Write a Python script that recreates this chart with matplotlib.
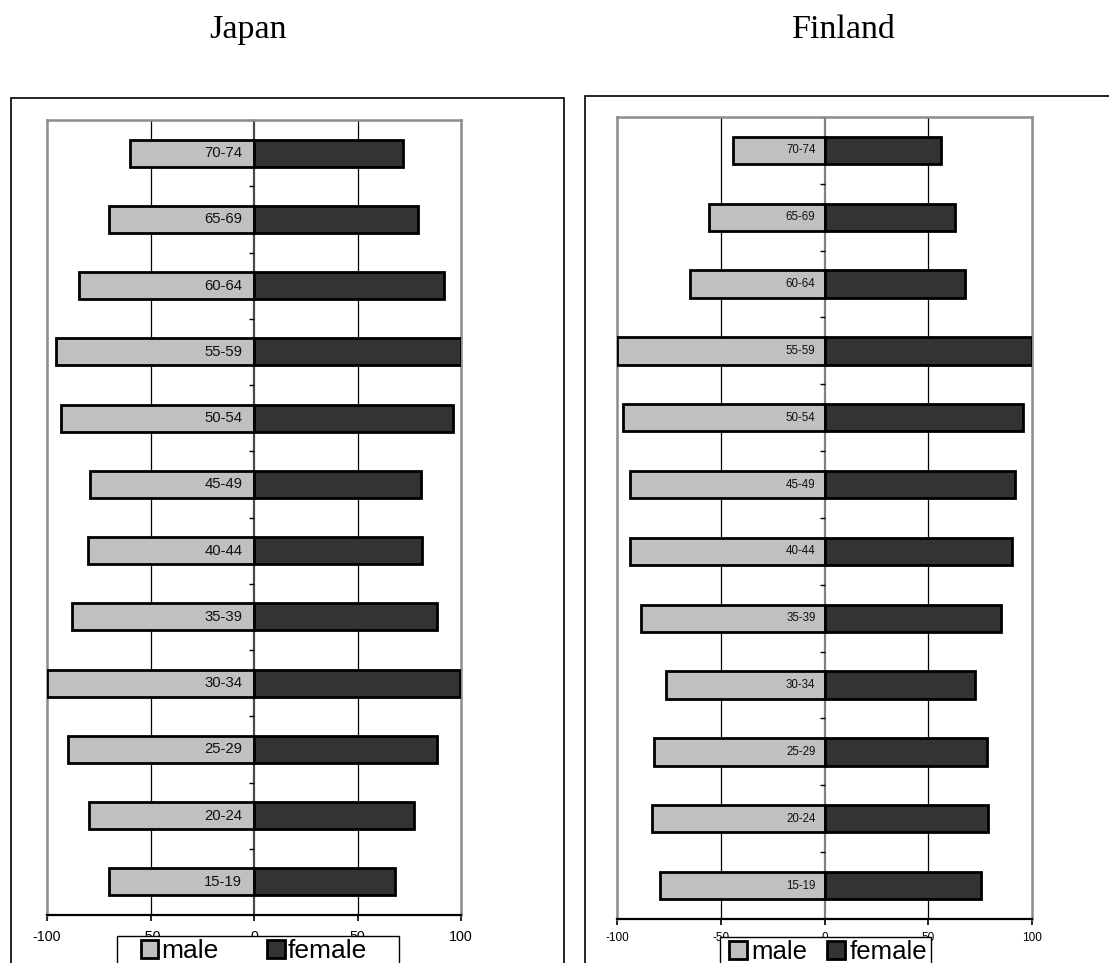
import matplotlib
matplotlib.use("Agg")
import matplotlib.pyplot as plt
from matplotlib.patches import Rectangle

# Age groups, bottom to top
age_groups = ["15-19", "20-24", "25-29", "30-34", "35-39", "40-44",
              "45-49", "50-54", "55-59", "60-64", "65-69", "70-74"]

# Index values (max = 100) for each sex
japan_male = [70, 79.6, 90, 100, 88, 80, 79.3, 93.2, 95.7, 84.3, 69.9, 59.7]
japan_female = [68, 77.4, 88.4, 99.7, 88.5, 81, 80.6, 96, 100, 91.6, 79, 72.2]
finland_male = [79.3, 82.9, 82.3, 76.5, 88.4, 93.8, 93.8, 96.9, 100, 65, 55.5, 43.9]
finland_female = [75.5, 78.7, 78.2, 72.4, 85, 90.4, 91.7, 95.7, 100, 67.7, 62.8, 56]

x_ticks = [-100, -50, 0, 50, 100]
series_names = ["male", "female"]

W, H = 1109, 963
fig = plt.figure(figsize=(W / 100, H / 100), dpi=100)
fig.patch.set_facecolor("white")

SANS = ["Liberation Sans", "DejaVu Sans"]
SERIF = ["Liberation Serif", "DejaVu Serif"]


def fx(px):
    return px / W


def fy(py):
    return 1 - py / H


def pyramid(rect, male, female, label_size, tick_size, label_offset, tick_pad, zero_color):
    ax = fig.add_axes(rect)
    y = list(range(len(age_groups)))
    ax.set_xlim(-100, 100)
    ax.set_ylim(-0.5, len(age_groups) - 0.5)

    for gx in (-50, 50):
        ax.axvline(gx, color="black", lw=0.9, zorder=1)
    ax.axvline(0, color=zero_color, lw=1.6, zorder=1)

    # small tick marks on the zero axis at category boundaries
    bounds = [i - 0.5 for i in range(len(age_groups) + 1)]
    ax.hlines(bounds[1:], -2.3, 0, color="black", lw=1.0, zorder=1, clip_on=False)

    bm = ax.barh(y, [-v for v in male], height=0.41, color="#c0c0c0",
                 edgecolor="black", lw=2.0, zorder=3, label=series_names[0])
    bf = ax.barh(y, female, height=0.41, color="#333333",
                 edgecolor="black", lw=2.0, zorder=3, label=series_names[1])

    for yi, name in zip(y, age_groups):
        ax.annotate(name, xy=(0, yi), xytext=(-label_offset, 0),
                    textcoords="offset points", ha="right", va="center",
                    fontsize=label_size, family=SANS, color="#111111", zorder=4)

    ax.set_yticks([])
    ax.set_xticks(x_ticks)
    ax.set_xticklabels([str(t) for t in x_ticks], family=SANS, fontsize=tick_size)
    ax.tick_params(axis="x", direction="out", length=4, width=1.2,
                   pad=tick_pad, colors="black")
    for side in ("top", "left", "right"):
        ax.spines[side].set_color("#8c8c8c")
        ax.spines[side].set_linewidth(1.8)
    ax.spines["bottom"].set_color("black")
    ax.spines["bottom"].set_linewidth(1.6)
    ax.set_facecolor("white")
    return ax, bm, bf


# Japan panel
jl, jr, jt, jb = 47, 461, 120, 915
ax_j, jm, jf = pyramid([fx(jl), fy(jb), fx(jr - jl), (jb - jt) / H],
                       japan_male, japan_female, 10.7, 10.3, 8.5, 7, "#4a4a4a")

# Finland panel
kl, kr, kt, kb = 617, 1032, 117, 919
ax_f, fm, ff = pyramid([fx(kl), fy(kb), fx(kr - kl), (kb - kt) / H],
                       finland_male, finland_female, 8.3, 8.5, 6.5, 5, "#808080")

# Titles
fig.text(fx(247.5), fy(38), "Japan", family=SERIF, fontsize=24.5,
         ha="center", va="baseline")
fig.text(fx(844), fy(38), "Finland", family=SERIF, fontsize=24.5,
         ha="center", va="baseline")

# Outer chart frames
fig.add_artist(Rectangle((fx(11), -0.1), fx(563.5 - 11), fy(98) + 0.1,
                         transform=fig.transFigure, fill=False,
                         edgecolor="black", lw=1.2, zorder=0.5))
fig.add_artist(Rectangle((fx(585), -0.1), 0.6, fy(96) + 0.1,
                         transform=fig.transFigure, fill=False,
                         edgecolor="black", lw=1.2, zorder=0.5))

# Legend frames (white, covering part of the tick labels)
fig.add_artist(Rectangle((fx(117), -0.1), fx(399 - 117), fy(936) + 0.1,
                         transform=fig.transFigure, facecolor="white",
                         edgecolor="black", lw=1.0, zorder=4))
fig.add_artist(Rectangle((fx(720), -0.1), fx(931 - 720), fy(937) + 0.1,
                         transform=fig.transFigure, facecolor="white",
                         edgecolor="black", lw=1.0, zorder=4))

leg_j = fig.legend([jm, jf], series_names, loc="upper left",
                   bbox_to_anchor=(fx(141), fy(939)), frameon=False, ncol=2,
                   borderpad=0, borderaxespad=0, handlelength=0.65,
                   handleheight=0.65, handletextpad=0.12, columnspacing=1.85,
                   prop={"family": SANS, "size": 19})
leg_j.set_zorder(5)

leg_f = fig.legend([fm, ff], series_names, loc="upper left",
                   bbox_to_anchor=(fx(729), fy(940)), frameon=False, ncol=2,
                   borderpad=0, borderaxespad=0, handlelength=0.7,
                   handleheight=0.7, handletextpad=0.15, columnspacing=0.8,
                   prop={"family": SANS, "size": 18.5})
leg_f.set_zorder(5)

fig.savefig("out.png", dpi=100)
